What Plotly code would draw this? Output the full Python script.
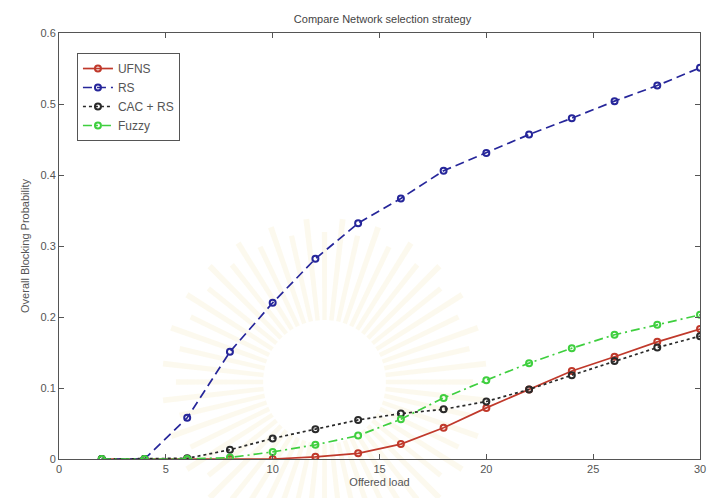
import numpy as np
import plotly.graph_objects as go

# Offered load values
offered_load = [2, 4, 6, 8, 10, 12, 14, 16, 18, 20, 22, 24, 26, 28, 30]

# Overall blocking probability per strategy
ufns = [0, 0, 0, 0, 0.0, 0.003, 0.008, 0.021, 0.044, 0.072, 0.098, 0.124, 0.144, 0.165, 0.183]
rs = [0, 0, 0.058, 0.151, 0.220, 0.282, 0.332, 0.367, 0.406, 0.431, 0.457, 0.480, 0.504, 0.526, 0.551]
cac_rs = [0, 0, 0.001, 0.013, 0.029, 0.042, 0.055, 0.064, 0.070, 0.081, 0.098, 0.118, 0.138, 0.157, 0.173]
fuzzy = [0, 0, 0, 0.002, 0.010, 0.020, 0.033, 0.056, 0.086, 0.111, 0.135, 0.156, 0.175, 0.189, 0.203]

x_ticks = [0, 5, 10, 15, 20, 25, 30]
y_ticks = [0, 0.1, 0.2, 0.3, 0.4, 0.5, 0.6]

W, H = 713, 498
L, R, T, B = 59, 7, 33, 39
pw, ph = W - L - R, H - T - B

fig = go.Figure()

series = [
    ("UFNS", ufns, "#c0392b", "solid"),
    ("RS", rs, "#26269a", "9px,5px"),
    ("CAC + RS", cac_rs, "#2a2a2a", "dot"),
    ("Fuzzy", fuzzy, "#3fcf3f", "9px,4px,2px,4px"),
]
for name, vals, color, dash in series:
    fig.add_trace(go.Scatter(
        x=offered_load, y=vals, name=name, mode="lines+markers",
        line=dict(color=color, width=1.7, dash=dash),
        marker=dict(symbol="circle-open", size=6, color=color, line=dict(width=2, color=color)),
    ))

# faint sunburst watermark behind the plot
def px2paper(px, py):
    return (px - L) / pw, (H - B - py) / ph

cx, cy = 327, 382
shapes = []
n_rays = 56
for k in range(n_rays):
    a0 = 2 * np.pi * k / n_rays
    da = 2 * np.pi / n_rays * 0.32
    r_in, r_out = 62, 150 + 14 * (k % 2)
    pts = []
    for a, r in [(a0 - da, r_in), (a0 - da * 0.5, r_out), (a0 + da * 0.5, r_out), (a0 + da, r_in)]:
        pts.append(px2paper(cx + r * np.cos(a), cy - r * np.sin(a)))
    path = "M " + " L ".join(f"{p[0]:.4f},{p[1]:.4f}" for p in pts) + " Z"
    shapes.append(dict(type="path", path=path, xref="paper", yref="paper",
                       fillcolor="rgba(235,215,150,0.16)", line=dict(width=0), layer="below"))

fig.update_layout(
    width=W, height=H,
    margin=dict(l=L, r=R, t=T, b=B),
    paper_bgcolor="white", plot_bgcolor="rgba(0,0,0,0)",
    font=dict(family="Liberation Sans, Arial, sans-serif", size=11, color="#555555"),
    title=dict(text="Compare Network selection strategy", x=(L + pw / 2) / W, xanchor="center",
               y=1 - 19 / H, yanchor="middle", font=dict(size=11, color="#444444")),
    showlegend=True,
    legend=dict(x=0.028, y=0.953, xanchor="left", yanchor="top",
                bgcolor="white", bordercolor="#555555", borderwidth=1,
                font=dict(size=12, color="#555555"), itemwidth=30,
                tracegroupgap=0),
    shapes=shapes,
)
fig.update_xaxes(range=[0, 30], tickvals=x_ticks, ticks="inside", ticklen=5, tickcolor="#555555",
                 showline=True, linecolor="#555555", linewidth=1, mirror="ticks",
                 showgrid=False, zeroline=False,
                 title=dict(text="Offered load", standoff=4, font=dict(size=11, color="#555555")))
fig.update_yaxes(range=[0, 0.6], tickvals=y_ticks, ticktext=[f"{v:g}" for v in y_ticks],
                 ticks="inside", ticklen=5, tickcolor="#555555",
                 showline=True, linecolor="#555555", linewidth=1, mirror="ticks",
                 showgrid=False, zeroline=False,
                 title=dict(text="Overall Blocking Probability", standoff=8, font=dict(size=11, color="#555555")))

fig.write_html("out.html")
